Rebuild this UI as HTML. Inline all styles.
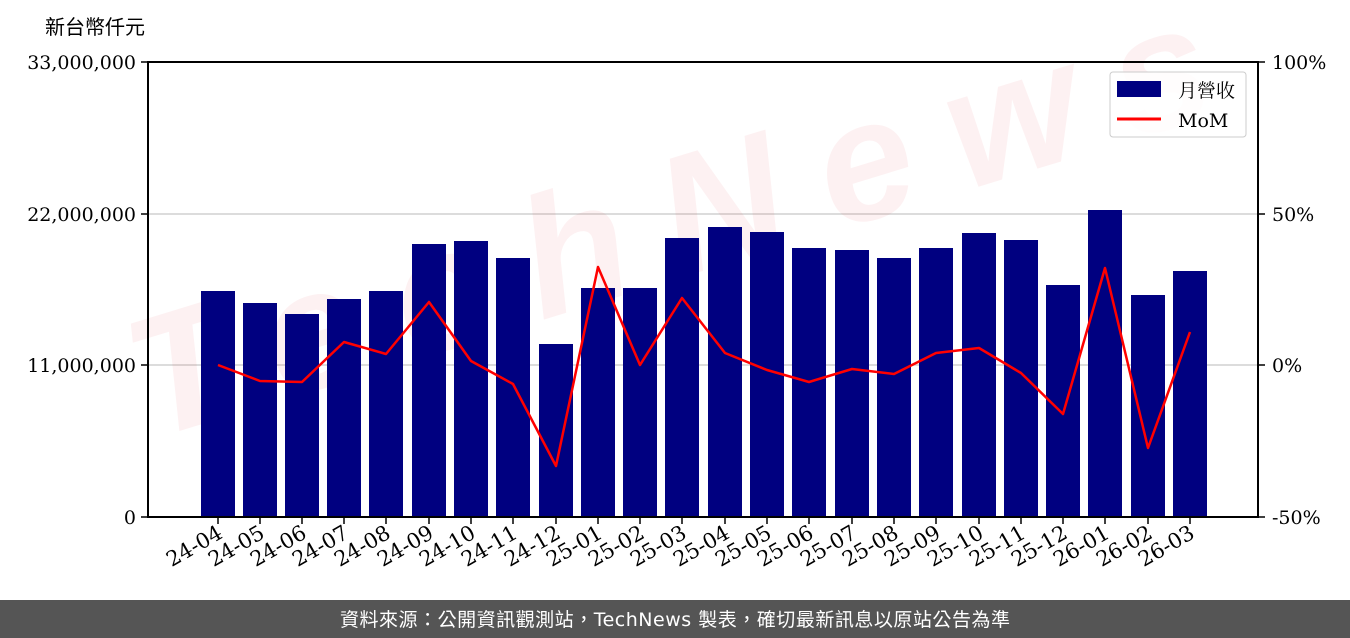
<!DOCTYPE html>
<html><head><meta charset="utf-8"><style>
html,body{margin:0;padding:0;background:#fff;width:1350px;height:638px;overflow:hidden}
svg{display:block}
text{font-family:"DejaVu Serif","Noto Serif CJK SC",serif;fill:#000}
</style></head><body>
<svg width="1350" height="638" viewBox="0 0 1350 638" xmlns="http://www.w3.org/2000/svg">
<rect width="1350" height="638" fill="#fff"/>
<text x="45" y="34" font-size="20" style="font-family:'Liberation Sans','Noto Sans CJK TC',sans-serif">新台幣仟元</text>
<g stroke="#d0d0d0" stroke-width="1.5">
<line x1="148" y1="214" x2="1258" y2="214"/>
<line x1="148" y1="365" x2="1258" y2="365"/>
</g>
<text x="150" y="440" font-size="170" font-style="italic" font-weight="bold" transform="rotate(-17 150 440)" style="fill:rgba(220,60,70,0.07);font-family:'Liberation Sans',sans-serif" textLength="1120">TechNews</text>
<g fill="#000080">
<rect x="201" y="291" width="34" height="226"/>
<rect x="243" y="303" width="34" height="214"/>
<rect x="285" y="314" width="34" height="203"/>
<rect x="327" y="299" width="34" height="218"/>
<rect x="369" y="291" width="34" height="226"/>
<rect x="412" y="244" width="34" height="273"/>
<rect x="454" y="241" width="34" height="276"/>
<rect x="496" y="258" width="34" height="259"/>
<rect x="539" y="344" width="34" height="173"/>
<rect x="581" y="288" width="34" height="229"/>
<rect x="623" y="288" width="34" height="229"/>
<rect x="665" y="238" width="34" height="279"/>
<rect x="708" y="227" width="34" height="290"/>
<rect x="750" y="232" width="34" height="285"/>
<rect x="792" y="248" width="34" height="269"/>
<rect x="835" y="250" width="34" height="267"/>
<rect x="877" y="258" width="34" height="259"/>
<rect x="919" y="248" width="34" height="269"/>
<rect x="962" y="233" width="34" height="284"/>
<rect x="1004" y="240" width="34" height="277"/>
<rect x="1046" y="285" width="34" height="232"/>
<rect x="1088" y="210" width="34" height="307"/>
<rect x="1131" y="295" width="34" height="222"/>
<rect x="1173" y="271" width="34" height="246"/>
</g>
<polyline fill="none" stroke="#ff0000" stroke-width="2.5" stroke-linejoin="round" points="218,365 260,381 302,382 344,342 386,354 429,302 471,361 513,384 556,466 598,267 640,365 682,298 725,353 767,370 809,382 852,369 894,374 936,353 979,348 1021,373 1063,414 1105,268 1148,448 1190,332"/>
<rect x="148" y="62" width="1110" height="455" fill="none" stroke="#000" stroke-width="2"/>
<g stroke="#000" stroke-width="1.5">
<line x1="141" y1="62" x2="148" y2="62"/><line x1="141" y1="214" x2="148" y2="214"/><line x1="141" y1="365" x2="148" y2="365"/><line x1="141" y1="517" x2="148" y2="517"/>
<line x1="1258" y1="62" x2="1265" y2="62"/><line x1="1258" y1="214" x2="1265" y2="214"/><line x1="1258" y1="365" x2="1265" y2="365"/><line x1="1258" y1="517" x2="1265" y2="517"/>
</g>
<g stroke="#000" stroke-width="1.5">
<line x1="218" y1="517" x2="218" y2="524"/><line x1="260" y1="517" x2="260" y2="524"/><line x1="302" y1="517" x2="302" y2="524"/><line x1="344" y1="517" x2="344" y2="524"/><line x1="386" y1="517" x2="386" y2="524"/><line x1="429" y1="517" x2="429" y2="524"/><line x1="471" y1="517" x2="471" y2="524"/><line x1="513" y1="517" x2="513" y2="524"/><line x1="556" y1="517" x2="556" y2="524"/><line x1="598" y1="517" x2="598" y2="524"/><line x1="640" y1="517" x2="640" y2="524"/><line x1="682" y1="517" x2="682" y2="524"/><line x1="725" y1="517" x2="725" y2="524"/><line x1="767" y1="517" x2="767" y2="524"/><line x1="809" y1="517" x2="809" y2="524"/><line x1="852" y1="517" x2="852" y2="524"/><line x1="894" y1="517" x2="894" y2="524"/><line x1="936" y1="517" x2="936" y2="524"/><line x1="979" y1="517" x2="979" y2="524"/><line x1="1021" y1="517" x2="1021" y2="524"/><line x1="1063" y1="517" x2="1063" y2="524"/><line x1="1105" y1="517" x2="1105" y2="524"/><line x1="1148" y1="517" x2="1148" y2="524"/><line x1="1190" y1="517" x2="1190" y2="524"/>
</g>
<g font-size="19" text-anchor="end">
<text x="136" y="69">33,000,000</text><text x="136" y="221">22,000,000</text><text x="136" y="372">11,000,000</text><text x="136" y="524">0</text>
</g>
<g font-size="19">
<text x="1272" y="69">100%</text><text x="1272" y="221">50%</text><text x="1272" y="372">0%</text><text x="1272" y="524">-50%</text>
</g>
<g font-size="21" text-anchor="end">
<text transform="translate(224,537) rotate(-30)">24-04</text>
<text transform="translate(266,537) rotate(-30)">24-05</text>
<text transform="translate(308,537) rotate(-30)">24-06</text>
<text transform="translate(350,537) rotate(-30)">24-07</text>
<text transform="translate(392,537) rotate(-30)">24-08</text>
<text transform="translate(435,537) rotate(-30)">24-09</text>
<text transform="translate(477,537) rotate(-30)">24-10</text>
<text transform="translate(519,537) rotate(-30)">24-11</text>
<text transform="translate(562,537) rotate(-30)">24-12</text>
<text transform="translate(604,537) rotate(-30)">25-01</text>
<text transform="translate(646,537) rotate(-30)">25-02</text>
<text transform="translate(688,537) rotate(-30)">25-03</text>
<text transform="translate(731,537) rotate(-30)">25-04</text>
<text transform="translate(773,537) rotate(-30)">25-05</text>
<text transform="translate(815,537) rotate(-30)">25-06</text>
<text transform="translate(858,537) rotate(-30)">25-07</text>
<text transform="translate(900,537) rotate(-30)">25-08</text>
<text transform="translate(942,537) rotate(-30)">25-09</text>
<text transform="translate(985,537) rotate(-30)">25-10</text>
<text transform="translate(1027,537) rotate(-30)">25-11</text>
<text transform="translate(1069,537) rotate(-30)">25-12</text>
<text transform="translate(1111,537) rotate(-30)">26-01</text>
<text transform="translate(1154,537) rotate(-30)">26-02</text>
<text transform="translate(1196,537) rotate(-30)">26-03</text>
</g>
<rect x="1110" y="72" width="136" height="65" rx="3" fill="rgba(255,255,255,0.85)" stroke="#ccc" stroke-width="1"/>
<rect x="1117" y="81" width="44" height="16" fill="#000080"/>
<line x1="1117" y1="119" x2="1161" y2="119" stroke="#ff0000" stroke-width="3"/>
<text x="1178" y="97" font-size="19">月營收</text>
<text x="1178" y="127" font-size="19">MoM</text>
<rect x="0" y="600" width="1350" height="38" fill="#555"/>
<text x="340" y="626" font-size="19" textLength="670" style="fill:#fff;font-family:'DejaVu Sans','Noto Sans CJK TC',sans-serif">資料來源：公開資訊觀測站，TechNews 製表，確切最新訊息以原站公告為準</text>
</svg>
</body></html>
